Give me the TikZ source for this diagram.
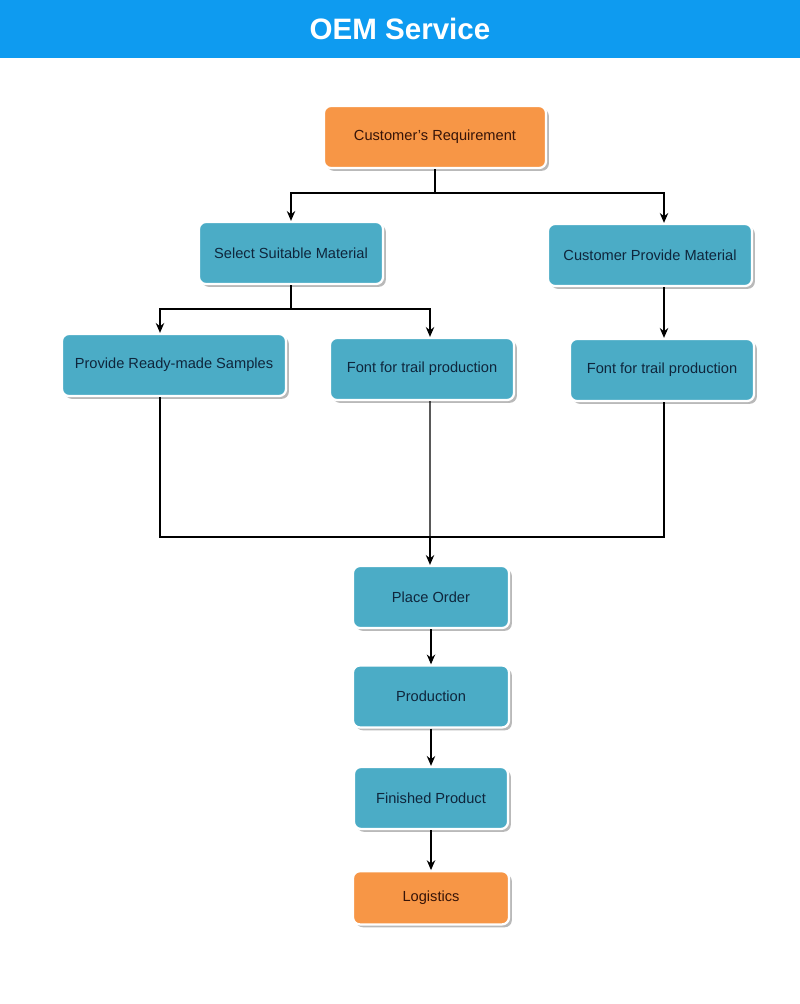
\documentclass[tikz,border=0pt]{standalone}
\usepackage{fontspec}
\setmainfont{Liberation Sans}
\usetikzlibrary{arrows.meta, positioning, calc, shadows}
\definecolor{headblue}{RGB}{14,155,240}
\definecolor{boxorange}{RGB}{247,150,70}
\definecolor{boxblue}{RGB}{75,172,198}
\definecolor{textblue}{RGB}{15,38,60}
\definecolor{textbrown}{RGB}{55,20,8}
\tikzset{
    flowchart/.style={>={Stealth[length=7pt, width=6pt]}, line width=0.8pt, font=\fontsize{10.4}{12}\selectfont},
    box/.style={draw=white, line width=1.6pt, rounded corners=5pt, minimum height=1.55cm, align=center,
        drop shadow={shadow xshift=2pt, shadow yshift=-2pt, fill=black!55, opacity=0.5}},
    bluebox/.style={box, fill=boxblue, text=textblue},
    orangebox/.style={box, fill=boxorange, text=textbrown},
    junction/.style={coordinate},
}

\begin{document}
\begin{tikzpicture}[flowchart, x=0.025cm, y=-0.025cm]
    \useasboundingbox (0,0) rectangle (800,1004);
    % header bar
    \fill[headblue] (0,0) rectangle (800,58);
    \node[text=white, font=\fontsize{21}{25}\bfseries\selectfont] (title) at (400,29) {OEM Service};

    \node[orangebox, minimum width=5.55cm] (req)     at (435,137) {Customer’s Requirement};
    \node[bluebox, minimum width=4.6cm]    (select)  at (291,253) {Select Suitable Material};
    \node[bluebox, minimum width=5.1cm]    (custmat) at (650,255) {Customer Provide Material};
    \node[bluebox, minimum width=5.6cm]    (ready)   at (174,365) {Provide Ready-made Samples};
    \node[bluebox, minimum width=4.6cm]    (trail1)  at (422,369) {Font for trail production};
    \node[bluebox, minimum width=4.6cm]    (trail2)  at (662,370) {Font for trail production};

    \node[bluebox, minimum width=3.9cm]  (order)      at (431,597)                 {Place Order};
    \node[bluebox, minimum width=3.9cm]  (production) [below=0.88cm of order]      {Production};
    \node[bluebox, minimum width=3.85cm] (finished)   [below=0.93cm of production] {Finished Product};
    \node[orangebox, minimum width=3.9cm, minimum height=1.33cm] (logistics) [below=1.0cm of finished] {Logistics};

    % first split
    \coordinate[junction] (split1) at (435,193);
    \draw (req.south) -- (split1);
    \draw[->] (split1) -| (select.north);
    \draw[->] (split1) -| ([xshift=0.35cm]custmat.north);

    % second split
    \coordinate[junction] (split2) at (291,309);
    \draw (select.south) -- (split2);
    \draw[->] (split2) -| ([xshift=-0.35cm]ready.north);
    \draw[->] (split2) -| ([xshift=0.2cm]trail1.north);
    \draw[->] ([xshift=0.35cm]custmat.south) -- ([xshift=0.35cm]custmat.south |- trail2.north);

    % merge
    \coordinate[junction] (merge) at (430,537);
    \draw ([xshift=-0.35cm]ready.south) |- (merge);
    \draw ([xshift=0.05cm]trail2.south) |- (merge);
    \draw ([xshift=0.2cm]trail1.south) -- (merge);
    \draw[->] (merge) -- (merge |- order.north);

    \draw[->] (order) -- (production);
    \draw[->] (production) -- (finished);
    \draw[->] (finished) -- (logistics);
\end{tikzpicture}
\end{document}
